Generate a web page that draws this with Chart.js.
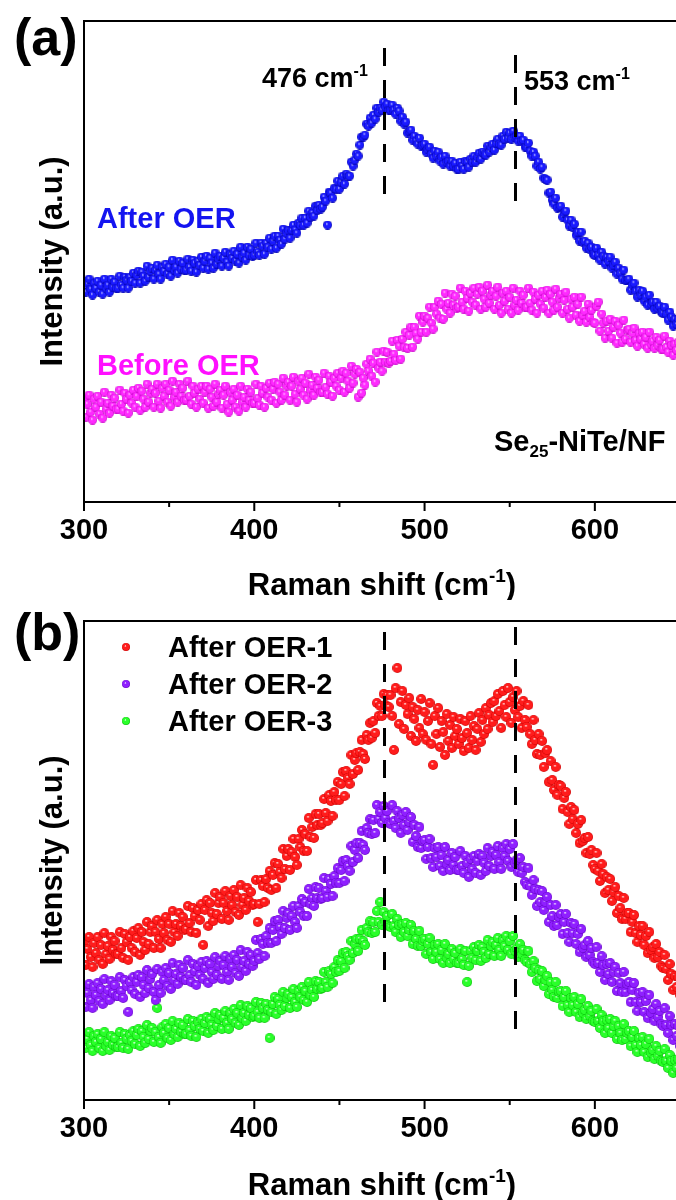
<!DOCTYPE html>
<html>
<head>
<meta charset="utf-8">
<title>Raman spectra - Se25-NiTe/NF</title>
<script src="https://cdn.jsdelivr.net/npm/chart.js@4.4.0/dist/chart.umd.min.js"></script>
<style>
  html, body { margin: 0; padding: 0; background: #fff; overflow: hidden; }
  .page { position: relative; width: 676px; height: 1200px; overflow: hidden; }
  .panel { position: absolute; left: 0; width: 700px; height: 600px; }
  #panelA { top: 0; }
  #panelB { top: 600px; }
</style>
</head>
<body>
<div class="page">
  <div class="panel" id="panelA"><canvas id="chartA" width="700" height="600"></canvas></div>
  <div class="panel" id="panelB"><canvas id="chartB" width="700" height="600"></canvas></div>
</div>
<script>
// Raman shift (cm-1), shared by every spectrum
const ramanShift = [
  300, 301, 302, 303, 304, 305, 306, 307, 308, 309, 310, 311, 312, 313, 314, 315, 316, 317, 318, 319,
  320, 321, 322, 323, 324, 325, 326, 327, 328, 329, 330, 331, 332, 333, 334, 335, 336, 337, 338, 339,
  340, 341, 342, 343, 344, 345, 346, 347, 348, 349, 350, 351, 352, 353, 354, 355, 356, 357, 358, 359,
  360, 361, 362, 363, 364, 365, 366, 367, 368, 369, 370, 371, 372, 373, 374, 375, 376, 377, 378, 379,
  380, 381, 382, 383, 384, 385, 386, 387, 388, 389, 390, 391, 392, 393, 394, 395, 396, 397, 398, 399,
  400, 401, 402, 403, 404, 405, 406, 407, 408, 409, 410, 411, 412, 413, 414, 415, 416, 417, 418, 419,
  420, 421, 422, 423, 424, 425, 426, 427, 428, 429, 430, 431, 432, 433, 434, 435, 436, 437, 438, 439,
  440, 441, 442, 443, 444, 445, 446, 447, 448, 449, 450, 451, 452, 453, 454, 455, 456, 457, 458, 459,
  460, 461, 462, 463, 464, 465, 466, 467, 468, 469, 470, 471, 472, 473, 474, 475, 476, 477, 478, 479,
  480, 481, 482, 483, 484, 485, 486, 487, 488, 489, 490, 491, 492, 493, 494, 495, 496, 497, 498, 499,
  500, 501, 502, 503, 504, 505, 506, 507, 508, 509, 510, 511, 512, 513, 514, 515, 516, 517, 518, 519,
  520, 521, 522, 523, 524, 525, 526, 527, 528, 529, 530, 531, 532, 533, 534, 535, 536, 537, 538, 539,
  540, 541, 542, 543, 544, 545, 546, 547, 548, 549, 550, 551, 552, 553, 554, 555, 556, 557, 558, 559,
  560, 561, 562, 563, 564, 565, 566, 567, 568, 569, 570, 571, 572, 573, 574, 575, 576, 577, 578, 579,
  580, 581, 582, 583, 584, 585, 586, 587, 588, 589, 590, 591, 592, 593, 594, 595, 596, 597, 598, 599,
  600, 601, 602, 603, 604, 605, 606, 607, 608, 609, 610, 611, 612, 613, 614, 615, 616, 617, 618, 619,
  620, 621, 622, 623, 624, 625, 626, 627, 628, 629, 630, 631, 632, 633, 634, 635, 636, 637, 638, 639,
  640, 641, 642, 643, 644, 645, 646, 647, 648, 649, 650
];

// Panel (a): intensity (a.u., curves offset)
const afterOER = [
  221, 210, 218, 223, 213, 207, 219, 214, 221, 210, 217, 208, 223, 214, 217, 210, 223, 215, 220, 214,
  214, 226, 217, 214, 225, 222, 214, 225, 221, 229, 219, 227, 231, 219, 230, 226, 221, 236, 225, 231,
  234, 223, 232, 237, 228, 223, 235, 231, 238, 228, 235, 226, 242, 232, 235, 229, 241, 233, 239, 232,
  232, 243, 235, 231, 242, 239, 230, 241, 237, 245, 234, 241, 246, 233, 244, 239, 234, 249, 238, 243,
  246, 236, 244, 250, 240, 236, 248, 244, 251, 241, 248, 239, 255, 245, 249, 242, 255, 247, 253, 246,
  247, 259, 250, 247, 259, 256, 248, 259, 255, 264, 253, 261, 266, 254, 266, 262, 258, 273, 263, 269,
  272, 264, 272, 277, 272, 269, 279, 277, 284, 277, 284, 279, 291, 285, 289, 286, 296, 292, 297, 293,
  295, 305, 301, 277, 310, 309, 304, 314, 313, 321, 313, 320, 326, 318, 328, 326, 326, 340, 336, 342,
  348, 346, 357, 365, 365, 367, 378, 376, 384, 379, 387, 383, 394, 390, 394, 392, 400, 395, 398, 392,
  392, 397, 392, 388, 394, 391, 381, 385, 378, 380, 369, 371, 372, 362, 366, 361, 358, 364, 356, 357,
  358, 350, 353, 355, 348, 344, 351, 346, 350, 341, 345, 338, 346, 340, 341, 336, 341, 336, 339, 333,
  333, 340, 336, 333, 341, 340, 335, 343, 340, 346, 340, 345, 349, 343, 350, 348, 347, 356, 350, 355,
  358, 352, 359, 363, 358, 357, 366, 363, 370, 364, 369, 363, 371, 365, 366, 361, 366, 361, 362, 355,
  355, 359, 351, 346, 350, 346, 336, 340, 333, 335, 324, 323, 322, 309, 310, 302, 298, 304, 294, 295,
  296, 285, 289, 291, 282, 276, 282, 275, 278, 267, 270, 261, 270, 260, 261, 254, 259, 253, 255, 248,
  247, 254, 247, 242, 250, 246, 238, 245, 241, 245, 234, 237, 240, 228, 234, 229, 223, 232, 222, 222,
  223, 212, 217, 219, 211, 205, 212, 207, 211, 201, 205, 197, 207, 198, 200, 193, 200, 194, 196, 190,
  189, 195, 188, 182, 190, 185, 176, 183, 178, 183, 172
];
const beforeOER = [
  103, 85, 98, 107, 90, 82, 103, 95, 106, 88, 100, 84, 110, 93, 99, 89, 107, 96, 104, 93,
  93, 112, 98, 91, 109, 103, 89, 107, 99, 112, 95, 106, 114, 92, 111, 103, 95, 118, 100, 109,
  113, 95, 109, 118, 101, 94, 114, 106, 118, 100, 112, 96, 121, 105, 110, 100, 118, 106, 114, 102,
  102, 121, 106, 98, 116, 109, 95, 113, 103, 116, 99, 110, 116, 94, 113, 105, 96, 118, 100, 108,
  112, 94, 107, 116, 98, 90, 110, 102, 113, 95, 107, 91, 116, 100, 105, 95, 113, 102, 110, 99,
  99, 118, 104, 97, 116, 109, 95, 114, 105, 119, 102, 113, 120, 99, 118, 110, 102, 124, 107, 116,
  120, 102, 116, 125, 108, 100, 121, 113, 124, 107, 119, 103, 128, 112, 117, 107, 125, 114, 122, 110,
  110, 129, 115, 108, 126, 120, 106, 124, 116, 129, 112, 124, 131, 110, 129, 121, 114, 136, 119, 128,
  133, 105, 130, 109, 124, 117, 138, 131, 143, 126, 139, 120, 150, 134, 140, 131, 151, 140, 150, 139,
  141, 161, 148, 142, 162, 156, 143, 163, 155, 170, 154, 167, 175, 155, 175, 169, 163, 186, 170, 180,
  186, 170, 184, 195, 179, 173, 195, 188, 201, 184, 198, 183, 209, 193, 199, 189, 208, 197, 206, 194,
  195, 214, 200, 193, 211, 204, 191, 209, 200, 214, 197, 208, 215, 193, 211, 203, 195, 217, 199, 207,
  211, 193, 206, 215, 197, 189, 209, 201, 211, 193, 205, 189, 214, 197, 202, 192, 211, 199, 207, 195,
  195, 214, 199, 192, 210, 203, 189, 207, 198, 211, 194, 205, 212, 189, 208, 200, 192, 213, 195, 204,
  208, 189, 202, 210, 193, 184, 203, 195, 205, 187, 198, 181, 205, 187, 191, 180, 198, 185, 192, 180,
  179, 196, 200, 171, 188, 179, 164, 181, 171, 183, 164, 175, 181, 159, 177, 169, 160, 182, 163, 172,
  173, 160, 169, 174, 162, 156, 169, 163, 170, 158, 165, 154, 170, 158, 161, 154, 165, 157, 162, 153,
  153, 166, 155, 150, 161, 157, 147, 158, 152, 160, 149
];

// Panel (b): three measurements after OER
const afterOER1 = [
  158, 135, 151, 163, 143, 133, 157, 147, 163, 140, 155, 136, 167, 146, 154, 141, 163, 150, 159, 146,
  146, 168, 152, 142, 166, 158, 140, 163, 152, 169, 148, 162, 172, 145, 168, 158, 150, 178, 156, 168,
  174, 152, 168, 180, 161, 152, 176, 167, 183, 160, 176, 158, 189, 168, 176, 164, 187, 174, 183, 170,
  171, 194, 177, 168, 192, 184, 167, 190, 180, 196, 155, 190, 200, 174, 197, 187, 179, 207, 186, 197,
  203, 181, 197, 209, 189, 180, 204, 195, 210, 188, 203, 185, 215, 195, 202, 190, 212, 199, 208, 195,
  196, 220, 178, 196, 220, 214, 198, 221, 212, 229, 210, 225, 237, 212, 236, 228, 222, 251, 231, 244,
  251, 230, 248, 261, 243, 235, 261, 253, 270, 249, 266, 249, 282, 263, 273, 262, 286, 275, 286, 275,
  277, 301, 287, 279, 305, 299, 284, 308, 300, 318, 300, 316, 328, 304, 329, 322, 316, 345, 326, 340,
  347, 330, 348, 360, 346, 341, 365, 360, 377, 362, 379, 367, 397, 384, 394, 384, 406, 395, 405, 393,
  405, 384, 350, 412, 432, 376, 398, 409, 371, 395, 386, 402, 364, 393, 381, 359, 390, 372, 401, 366,
  388, 360, 379, 397, 356, 335, 384, 366, 392, 353, 379, 368, 345, 386, 359, 375, 352, 383, 364, 371,
  356, 381, 362, 349, 379, 367, 352, 384, 360, 374, 350, 371, 387, 358, 380, 366, 392, 371, 385, 397,
  378, 399, 384, 406, 389, 372, 409, 395, 383, 412, 398, 377, 403, 390, 409, 383, 394, 372, 399, 380,
  373, 395, 366, 356, 380, 360, 346, 366, 345, 359, 333, 347, 350, 318, 339, 320, 310, 333, 305, 315,
  314, 291, 302, 308, 288, 276, 293, 281, 290, 267, 276, 257, 280, 259, 262, 247, 263, 246, 250, 235,
  231, 247, 229, 219, 236, 226, 207, 223, 210, 221, 199, 208, 213, 187, 204, 192, 181, 202, 181, 187,
  187, 168, 178, 185, 167, 158, 174, 165, 174, 155, 164, 147, 168, 150, 153, 142, 156, 143, 148, 134,
  132, 145, 131, 120, 136, 126, 110, 124, 113, 123, 105
];
const afterOER2 = [
  111, 93, 107, 116, 100, 92, 113, 105, 117, 99, 111, 96, 121, 105, 110, 100, 119, 107, 115, 104,
  104, 123, 109, 102, 120, 114, 88, 118, 110, 123, 106, 118, 125, 103, 123, 115, 107, 130, 112, 121,
  126, 108, 100, 131, 115, 107, 128, 120, 132, 114, 127, 111, 137, 120, 126, 116, 135, 123, 132, 120,
  120, 140, 125, 118, 136, 129, 115, 134, 125, 138, 121, 132, 139, 117, 136, 128, 121, 143, 125, 134,
  139, 121, 135, 144, 128, 120, 141, 133, 145, 127, 140, 124, 150, 133, 139, 129, 148, 136, 145, 134,
  139, 160, 147, 141, 161, 156, 144, 164, 157, 172, 157, 170, 179, 159, 180, 173, 166, 189, 172, 182,
  187, 170, 184, 194, 178, 172, 194, 188, 201, 184, 198, 184, 211, 196, 202, 194, 213, 202, 212, 201,
  202, 222, 209, 203, 221, 216, 204, 224, 217, 232, 217, 230, 239, 219, 240, 234, 229, 254, 238, 250,
  257, 242, 257, 269, 255, 250, 272, 267, 281, 266, 280, 267, 295, 281, 288, 277, 294, 282, 289, 277,
  276, 295, 279, 272, 289, 282, 267, 285, 275, 288, 270, 278, 283, 258, 275, 264, 253, 273, 252, 259,
  260, 241, 253, 261, 242, 233, 252, 243, 253, 234, 245, 229, 253, 236, 240, 230, 247, 235, 243, 230,
  230, 249, 234, 227, 244, 237, 223, 241, 231, 244, 227, 239, 246, 225, 244, 237, 229, 252, 234, 244,
  248, 231, 245, 254, 238, 231, 252, 244, 256, 239, 251, 233, 256, 237, 240, 228, 242, 227, 233, 218,
  215, 232, 214, 205, 220, 211, 194, 210, 198, 209, 190, 198, 203, 178, 195, 184, 174, 195, 175, 183,
  186, 166, 178, 186, 167, 158, 177, 167, 176, 156, 166, 148, 171, 152, 155, 143, 159, 145, 152, 138,
  136, 153, 137, 128, 144, 135, 120, 136, 126, 137, 118, 128, 133, 109, 127, 117, 108, 128, 108, 116,
  118, 98, 110, 117, 98, 89, 107, 98, 108, 88, 99, 82, 105, 87, 91, 79, 96, 83, 89, 76,
  74, 92, 75, 67, 84, 75, 60, 76, 64, 74, 54
];
const afterOER3 = [
  66, 52, 61, 68, 55, 49, 64, 58, 66, 52, 61, 49, 68, 54, 58, 50, 64, 55, 62, 53,
  53, 68, 57, 52, 66, 61, 51, 65, 59, 69, 56, 65, 71, 54, 69, 63, 57, 75, 61, 69,
  72, 58, 68, 92, 63, 57, 73, 67, 76, 62, 72, 60, 79, 66, 71, 63, 77, 68, 75, 66,
  66, 81, 70, 64, 79, 74, 63, 78, 71, 81, 69, 77, 83, 67, 81, 75, 70, 87, 74, 81,
  85, 71, 82, 89, 77, 71, 87, 81, 91, 77, 87, 75, 95, 82, 87, 79, 94, 85, 92, 83,
  84, 98, 88, 82, 97, 92, 82, 96, 90, 62, 88, 96, 103, 86, 101, 95, 90, 108, 94, 102,
  106, 92, 103, 111, 98, 93, 109, 103, 113, 100, 109, 98, 118, 105, 110, 103, 119, 111, 118, 111,
  112, 128, 118, 113, 129, 126, 117, 133, 128, 140, 129, 139, 147, 132, 148, 144, 140, 159, 147, 156,
  161, 149, 161, 170, 159, 155, 172, 168, 179, 167, 178, 168, 189, 178, 198, 175, 188, 178, 184, 174,
  173, 186, 174, 168, 181, 175, 163, 176, 168, 177, 164, 170, 175, 156, 169, 161, 154, 169, 154, 159,
  161, 146, 156, 162, 148, 141, 155, 148, 156, 141, 150, 137, 156, 142, 146, 137, 151, 141, 147, 137,
  137, 151, 141, 135, 149, 118, 134, 149, 142, 153, 140, 149, 155, 139, 153, 148, 142, 160, 146, 154,
  158, 144, 155, 162, 150, 144, 160, 154, 164, 150, 159, 146, 164, 149, 152, 143, 156, 146, 150, 140,
  138, 149, 136, 128, 139, 132, 119, 130, 121, 129, 114, 120, 124, 106, 118, 110, 103, 118, 102, 108,
  109, 94, 103, 109, 95, 88, 102, 95, 103, 88, 96, 83, 101, 87, 90, 81, 94, 84, 89, 79,
  78, 91, 79, 72, 85, 79, 67, 80, 72, 81, 67, 74, 79, 61, 74, 67, 60, 76, 61, 67,
  69, 54, 63, 69, 55, 48, 62, 55, 63, 48, 56, 43, 61, 47, 50, 41, 54, 44, 49, 39,
  38, 51, 39, 32, 45, 39, 27, 40, 32, 41, 27
];

const xMajorTicks = [300, 400, 500, 600];
const xMinorTicks = [350, 450, 550, 650];
const peakPositions = [476, 553];
const legendLabelsB = ['After OER-1', 'After OER-2', 'After OER-3'];

(function() {
    'use strict';

    const FONT = '"Liberation Sans", Arial, Helvetica, sans-serif';

    Chart.defaults.font.family = FONT;
    Chart.defaults.font.weight = 'bold';
    Chart.defaults.color = '#000';

    function font(size) {
        return 'bold ' + size + 'px ' + FONT;
    }

    /**
     * Small shaded ball used as point marker
     */
    function makeBall(base, dark, size) {
        const c = document.createElement('canvas');
        c.width = size;
        c.height = size;
        const g = c.getContext('2d');
        const r = size / 2;
        const grad = g.createRadialGradient(r * 0.8, r * 0.7, 0, r, r, r);
        grad.addColorStop(0, '#ffffff');
        grad.addColorStop(0.3, base);
        grad.addColorStop(0.8, base);
        grad.addColorStop(1, dark);
        g.fillStyle = grad;
        g.beginPath();
        g.arc(r, r, r, 0, Math.PI * 2);
        g.fill();
        return c;
    }

    const balls = {
        blue: makeBall('#1a1aff', '#0000a0', 9),
        magenta: makeBall('#ff2aff', '#c000c0', 9),
        red: makeBall('#ff1c1c', '#c80000', 10),
        purple: makeBall('#8f1fff', '#6000c0', 10),
        green: makeBall('#2aff2a', '#00b800', 10)
    };
    const legendBalls = [
        makeBall('#ff1c1c', '#c80000', 8),
        makeBall('#8f1fff', '#6000c0', 8),
        makeBall('#2aff2a', '#00b800', 8)
    ];

    /**
     * Text with optional superscript / subscript runs
     */
    function drawRich(ctx, parts, x, y, size, color, align) {
        ctx.save();
        ctx.fillStyle = color || '#000';
        ctx.textAlign = 'left';
        ctx.textBaseline = 'alphabetic';
        const sizes = parts.map(p => p[1] ? Math.round(size * 0.6) : size);
        const widths = parts.map((p, i) => {
            ctx.font = font(sizes[i]);
            return ctx.measureText(p[0]).width;
        });
        const total = widths.reduce((a, b) => a + b, 0);
        let cx = align === 'center' ? x - total / 2 : x;
        parts.forEach((p, i) => {
            ctx.font = font(sizes[i]);
            let dy = 0;
            if (p[1] === 'sup') dy = -size * 0.42;
            if (p[1] === 'sub') dy = size * 0.22;
            ctx.fillText(p[0], cx, y + dy);
            cx += widths[i];
        });
        ctx.restore();
    }

    function toPoints(values) {
        return ramanShift.map((x, i) => ({ x: x, y: values[i] }));
    }

    function series(label, values, ball) {
        return {
            label: label,
            data: toPoints(values),
            pointStyle: ball,
            pointRadius: ball.width / 2,
            showLine: false,
            clip: 0
        };
    }

    /**
     * Frame, ticks, peak markers and per-panel labels
     */
    function makeDecor(cfg) {
        return {
            id: 'panelDecor',
            afterDatasetsDraw: function(chart) {
                const ctx = chart.ctx;
                const area = chart.chartArea;
                const xs = chart.scales.x;
                ctx.save();
                ctx.strokeStyle = '#000';

                ctx.lineWidth = 3;
                ctx.setLineDash([18, 14]);
                peakPositions.forEach((p, i) => {
                    const px = Math.round(xs.getPixelForValue(p)) + 0.5;
                    ctx.beginPath();
                    ctx.moveTo(px, cfg.peakSpan[i][0]);
                    ctx.lineTo(px, cfg.peakSpan[i][1]);
                    ctx.stroke();
                });
                ctx.setLineDash([]);

                ctx.lineWidth = 2;
                ctx.beginPath();
                ctx.moveTo(chart.width, area.top);
                ctx.lineTo(area.left, area.top);
                ctx.lineTo(area.left, area.bottom);
                ctx.lineTo(chart.width, area.bottom);
                ctx.stroke();

                ctx.beginPath();
                xMajorTicks.forEach(v => {
                    const px = xs.getPixelForValue(v);
                    ctx.moveTo(px, area.bottom);
                    ctx.lineTo(px, area.bottom + 9);
                });
                xMinorTicks.forEach(v => {
                    const px = xs.getPixelForValue(v);
                    ctx.moveTo(px, area.bottom);
                    ctx.lineTo(px, area.bottom + 5);
                });
                ctx.stroke();
                ctx.restore();
            },
            afterDraw: function(chart) {
                const ctx = chart.ctx;
                const area = chart.chartArea;

                drawRich(ctx, [['Raman shift (cm'], ['-1', 'sup'], [')']],
                    (area.left + area.right) / 2, 595, 31, '#000', 'center');

                ctx.save();
                ctx.translate(62, (area.top + area.bottom) / 2);
                ctx.rotate(-Math.PI / 2);
                drawRich(ctx, [['Intensity (a.u.)']], 0, 0, 31, '#000', 'center');
                ctx.restore();

                drawRich(ctx, [[cfg.letter]], 14, cfg.letterY, 52, '#000');
                cfg.extra(ctx);
            }
        };
    }

    function baseOptions(yMax, axisHeight) {
        return {
            responsive: false,
            animation: false,
            events: [],
            layout: { padding: { left: 84, top: 21, right: 20, bottom: 0 } },
            plugins: {
                legend: { display: false },
                tooltip: { enabled: false }
            },
            scales: {
                x: {
                    type: 'linear',
                    min: 300,
                    max: 650,
                    grid: { display: false, drawTicks: false },
                    border: { display: false },
                    ticks: {
                        color: '#000',
                        font: { size: 29, weight: 'bold' },
                        padding: 12,
                        maxRotation: 0,
                        autoSkip: false
                    },
                    afterBuildTicks: function(scale) {
                        scale.ticks = xMajorTicks.map(v => ({ value: v }));
                    },
                    afterFit: function(scale) {
                        scale.height = axisHeight;
                    }
                },
                y: {
                    display: false,
                    min: 0,
                    max: yMax
                }
            }
        };
    }

    // Panel (a)
    new Chart(document.getElementById('chartA'), {
        type: 'scatter',
        data: {
            datasets: [
                series('After OER', afterOER, balls.blue),
                series('Before OER', beforeOER, balls.magenta)
            ]
        },
        options: baseOptions(481, 98),
        plugins: [makeDecor({
            letter: '(a)',
            letterY: 55,
            peakSpan: [[48, 198], [55, 204]],
            extra: function(ctx) {
                drawRich(ctx, [['476 cm'], ['-1', 'sup']], 262, 87, 27, '#000');
                drawRich(ctx, [['553 cm'], ['-1', 'sup']], 524, 90, 27, '#000');
                drawRich(ctx, [['After OER']], 97, 228, 29, '#1414f0');
                drawRich(ctx, [['Before OER']], 97, 375, 29, '#ff10ff');
                drawRich(ctx, [['Se'], ['25', 'sub'], ['-NiTe/NF']], 494, 451, 29, '#000');
            }
        })]
    });

    // Panel (b)
    new Chart(document.getElementById('chartB'), {
        type: 'scatter',
        data: {
            datasets: [
                series(legendLabelsB[0], afterOER1, balls.red),
                series(legendLabelsB[1], afterOER2, balls.purple),
                series(legendLabelsB[2], afterOER3, balls.green)
            ]
        },
        options: baseOptions(479, 100),
        plugins: [makeDecor({
            letter: '(b)',
            letterY: 50,
            peakSpan: [[32, 404], [27, 438]],
            extra: function(ctx) {
                const rows = [47, 84, 121];
                legendLabelsB.forEach((label, i) => {
                    const b = legendBalls[i];
                    ctx.drawImage(b, 126 - b.width / 2, rows[i] - b.height / 2);
                    drawRich(ctx, [[label]], 168, rows[i] + 10, 29, '#000');
                });
            }
        })]
    });
})();
</script>
</body>
</html>
